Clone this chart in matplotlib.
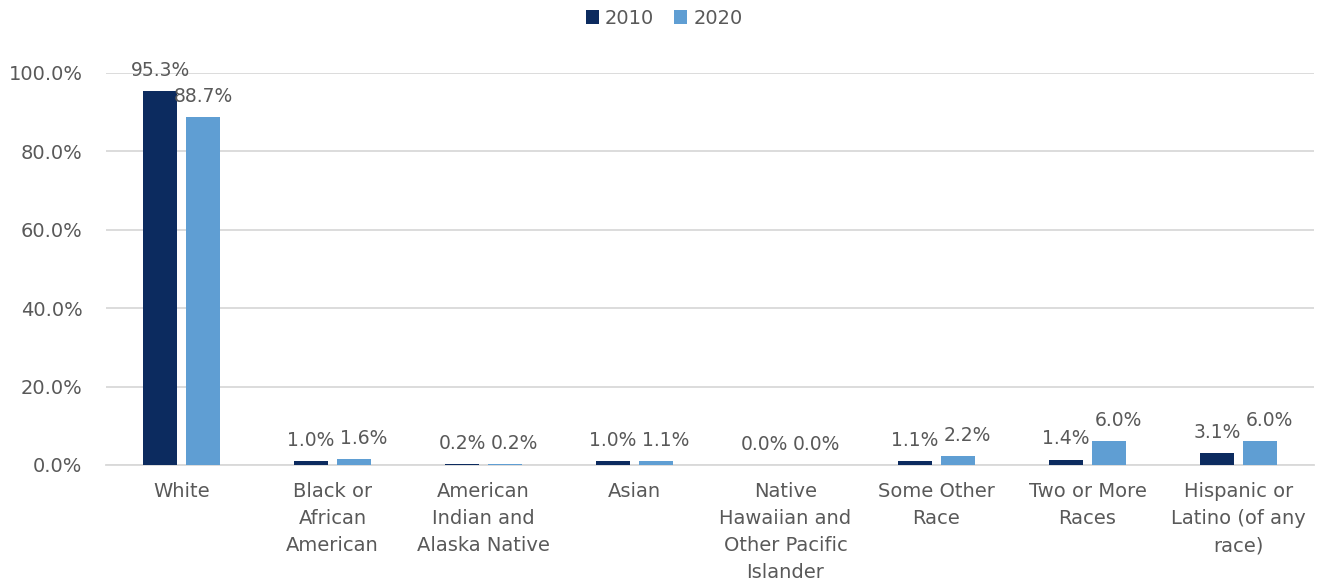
import numpy as np
import matplotlib
matplotlib.use("Agg")
import matplotlib.pyplot as plt
from matplotlib.ticker import FuncFormatter

categories = [
    "White",
    "Black or\nAfrican\nAmerican",
    "American\nIndian and\nAlaska Native",
    "Asian",
    "Native\nHawaiian and\nOther Pacific\nIslander",
    "Some Other\nRace",
    "Two or More\nRaces",
    "Hispanic or\nLatino (of any\nrace)",
]
pct_2010 = [95.3, 1.0, 0.2, 1.0, 0.0, 1.1, 1.4, 3.1]
pct_2020 = [88.7, 1.6, 0.2, 1.1, 0.0, 2.2, 6.0, 6.0]
series_names = ["2010", "2020"]
y_ticks = [0, 20, 40, 60, 80, 100]

DARK = "#0C2B5F"
LIGHT = "#5F9ED3"
TEXT = "#595959"
GRID = "#D9D9D9"

plt.rcParams["font.family"] = ["DejaVu Sans"]
plt.rcParams["font.size"] = 14

fig = plt.figure(figsize=(13.28, 5.8), dpi=100)
ax = fig.add_axes([106 / 1328, 115 / 580, 1208 / 1328, 392 / 580])

x = np.arange(len(categories))
width = 0.225
offset = 0.142

b1 = ax.bar(x - offset, pct_2010, width, color=DARK, label=series_names[0], zorder=3)
b2 = ax.bar(x + offset, pct_2020, width, color=LIGHT, label=series_names[1], zorder=3)

# value labels; nudge the 2020 label right when both bars are short
for i, (v1, v2) in enumerate(zip(pct_2010, pct_2020)):
    nudge = 7 if abs(v1 - v2) < 5 else 0
    for rect, v, dx in ((b1[i], v1, 0), (b2[i], v2, nudge)):
        ax.annotate(f"{v:.1f}%", (rect.get_x() + rect.get_width() / 2, v),
                    xytext=(dx, 8), textcoords="offset points",
                    ha="center", va="bottom", color=TEXT, fontsize=13.5)

ax.set_xlim(-0.5, len(categories) - 0.5)
ax.set_ylim(0, 100)
ax.set_yticks(y_ticks)
ax.yaxis.set_major_formatter(FuncFormatter(lambda v, _: f"{v:.1f}%"))
ax.set_xticks(x)
ax.set_xticklabels(categories, linespacing=1.55)
ax.tick_params(axis="both", length=0, colors=TEXT, labelsize=14)
ax.tick_params(axis="y", pad=17)
ax.tick_params(axis="x", pad=12)

ax.grid(axis="y", color=GRID, linewidth=1.3, zorder=0)
for side in ("top", "right", "left"):
    ax.spines[side].set_visible(False)
ax.spines["bottom"].set_color(GRID)
ax.spines["bottom"].set_linewidth(1.3)

leg = fig.legend(handles=[b1, b2], labels=series_names, loc="upper center",
                 bbox_to_anchor=(0.5, 1.015), ncol=2, frameon=False,
                 handlelength=0.7, handleheight=0.7, handletextpad=0.3,
                 columnspacing=1.0, fontsize=14)
for t in leg.get_texts():
    t.set_color(TEXT)

fig.savefig("out.png", dpi=100)
